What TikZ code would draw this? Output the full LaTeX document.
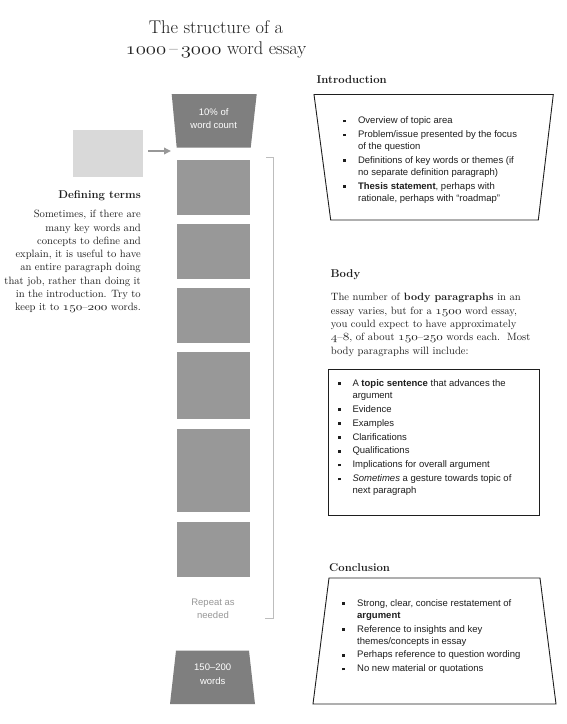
\documentclass[tikz,border=0pt]{standalone}
\usepackage{graphicx}
\usepackage{fontspec}
\setsansfont{Liberation Sans}
\usetikzlibrary{arrows.meta}
\definecolor{darkg}{HTML}{7F7F7F}
\definecolor{midg}{HTML}{989898}
\definecolor{lightg}{HTML}{D9D9D9}
\definecolor{brkg}{HTML}{BDBDBD}
\definecolor{ink}{HTML}{1E1E1E}
\newcommand\osn[1]{\scalebox{1.2}[1]{\usefont{OML}{lmm}{m}{it}#1}}
\newcommand\bul{\rule[1.4pt]{2.6pt}{2.6pt}}
\newcommand\sanstext{\sffamily\fontsize{9.5}{11.9}\selectfont}
\newcommand\sertext{\rmfamily\fontsize{10.6}{13.3}\selectfont}
\newcommand\headtext{\rmfamily\bfseries\fontsize{11.3}{13}\selectfont}
\begin{document}
\begin{tikzpicture}[x=1pt,y=-1pt,
  graybox/.style={fill=midg,draw=none,inner sep=0pt,minimum width=73.3pt},
  txt/.style={inner sep=0pt,text=ink},
  panel/.style={draw=ink,line width=0.9pt},
  wtext/.style={inner sep=0pt,text=white,font=\sffamily\fontsize{9.5}{13.3}\selectfont,align=center}]
\fill[white] (0,0) rectangle (566,724);
\useasboundingbox (0,0) rectangle (566,724);

% title
\node[txt,anchor=north,font=\rmfamily\fontsize{18.4}{21}\selectfont] (title) at (216,18.6)
 {\begin{tabular}{@{}c@{}}The structure of a\\ \osn{1000}\,--\,\osn{3000} word essay\end{tabular}};

% top trapezoid
\fill[darkg] (171.7,94) -- (256.7,94) -- (250.7,147.7) -- (176.7,147.7) -- cycle;
\node[wtext] (intropct) at (213.7,118.3) {10\% of\\word count};

% gray paragraph boxes
\node[graybox,minimum height=55.5pt] (b1) at (213.4,187.25) {};
\node[graybox,minimum height=55.5pt] (b2) at (213.4,251.25) {};
\node[graybox,minimum height=55.5pt] (b3) at (213.4,315.25) {};
\node[graybox,minimum height=67.5pt] (b4) at (213.4,385.25) {};
\node[graybox,minimum height=82.5pt] (b5) at (213.4,470.25) {};
\node[graybox,minimum height=55pt] (b6) at (213.4,549) {};

\node[inner sep=0pt,text=midg,font=\sffamily\fontsize{9.5}{13}\selectfont,align=center] (repeat) at (213,608.5) {Repeat as\\needed};

% bottom trapezoid
\fill[darkg] (176,650.7) -- (249,650.7) -- (255,704) -- (170,704) -- cycle;
\node[wtext,font=\sffamily\fontsize{9.5}{14}\selectfont] (concl) at (212.7,674.7) {150--200\\words};

% bracket
\draw[brkg,line width=1pt] (266,157) -- (273.3,157) -- (273.3,618) -- (265,618);

% defining terms box + arrow
\node[fill=lightg,inner sep=0pt,minimum width=70pt,minimum height=47.3pt] (defbox) at (107.7,153.6) {};
\coordinate (aS) at (148,151);
\coordinate (aE) at (171,151);
\draw[midg,line width=2pt,-{Triangle[length=7pt,width=6.5pt]}] (aS) -- (aE);

\node[txt,anchor=base east,font=\headtext] (defhead) at (141,198.8) {Defining terms};
\node[txt,anchor=north east,font=\sertext] (deftext) at (141,208.2)
 {\begin{tabular}{@{}r@{}}Sometimes, if there are\\
 many key words and\\
 concepts to define and\\
 explain, it is useful to have\\
 an entire paragraph doing\\
 that job, rather than doing it\\
 in the introduction. Try to\\
 keep it to \osn{150}--\osn{200} words.\end{tabular}};

% introduction
\node[txt,anchor=base west,font=\headtext] (introhead) at (316.5,83.8) {Introduction};
\draw[panel] (314,94.5) -- (553.3,94.5) -- (538.3,220) -- (330.7,220) -- cycle;
\node[txt,anchor=north west,font=\sanstext] (introlist) at (342.7,115.2)
 {\begin{tabular}{@{}l@{\hspace{12.6pt}}l@{}}
 \bul & Overview of topic area\\[2pt]
 \bul & Problem/issue presented by the focus\\
     & of the question\\[2pt]
 \bul & Definitions of key words or themes (if\\
     & no separate definition paragraph)\\[2pt]
 \bul & \textbf{Thesis statement}, perhaps with\\
     & rationale, perhaps with “roadmap”
 \end{tabular}};

% body
\node[txt,anchor=base west,font=\headtext] (bodyhead) at (330.5,277.8) {Body};
\node[txt,anchor=north west,font=\sertext] (bodytext) at (330.7,291.3)
 {\begin{tabular}{@{}l@{}}The number of \textbf{body paragraphs} in an\\
 essay varies, but for a \osn{1500} word essay,\\
 you could expect to have approximately\\
 \osn{4}--\osn{8}, of about \osn{150}--\osn{250} words each.\ \ Most\\
 body paragraphs will include:\end{tabular}};
\draw[panel] (328.3,369) rectangle (539,515.7);
\node[txt,anchor=north west,font=\sanstext] (bodylist) at (337.7,377.9)
 {\begin{tabular}{@{}l@{\hspace{12pt}}l@{}}
 \bul & A \textbf{topic sentence} that advances the\\
     & argument\\[2pt]
 \bul & Evidence\\[2pt]
 \bul & Examples\\[2pt]
 \bul & Clarifications\\[2pt]
 \bul & Qualifications\\[2pt]
 \bul & Implications for overall argument\\[2pt]
 \bul & \textit{Sometimes} a gesture towards topic of\\
     & next paragraph
 \end{tabular}};

% conclusion
\node[txt,anchor=base west,font=\headtext] (conchead) at (329,571.8) {Conclusion};
\draw[panel] (329,578) -- (540,578) -- (556,704) -- (313,704) -- cycle;
\node[txt,anchor=north west,font=\sanstext] (conclist) at (341.7,597.8)
 {\begin{tabular}{@{}l@{\hspace{12.7pt}}l@{}}
 \bul & Strong, clear, concise restatement of\\
     & \textbf{argument}\\[2pt]
 \bul & Reference to insights and key\\
     & themes/concepts in essay\\[2pt]
 \bul & Perhaps reference to question wording\\[2pt]
 \bul & No new material or quotations
 \end{tabular}};
\end{tikzpicture}
\end{document}
